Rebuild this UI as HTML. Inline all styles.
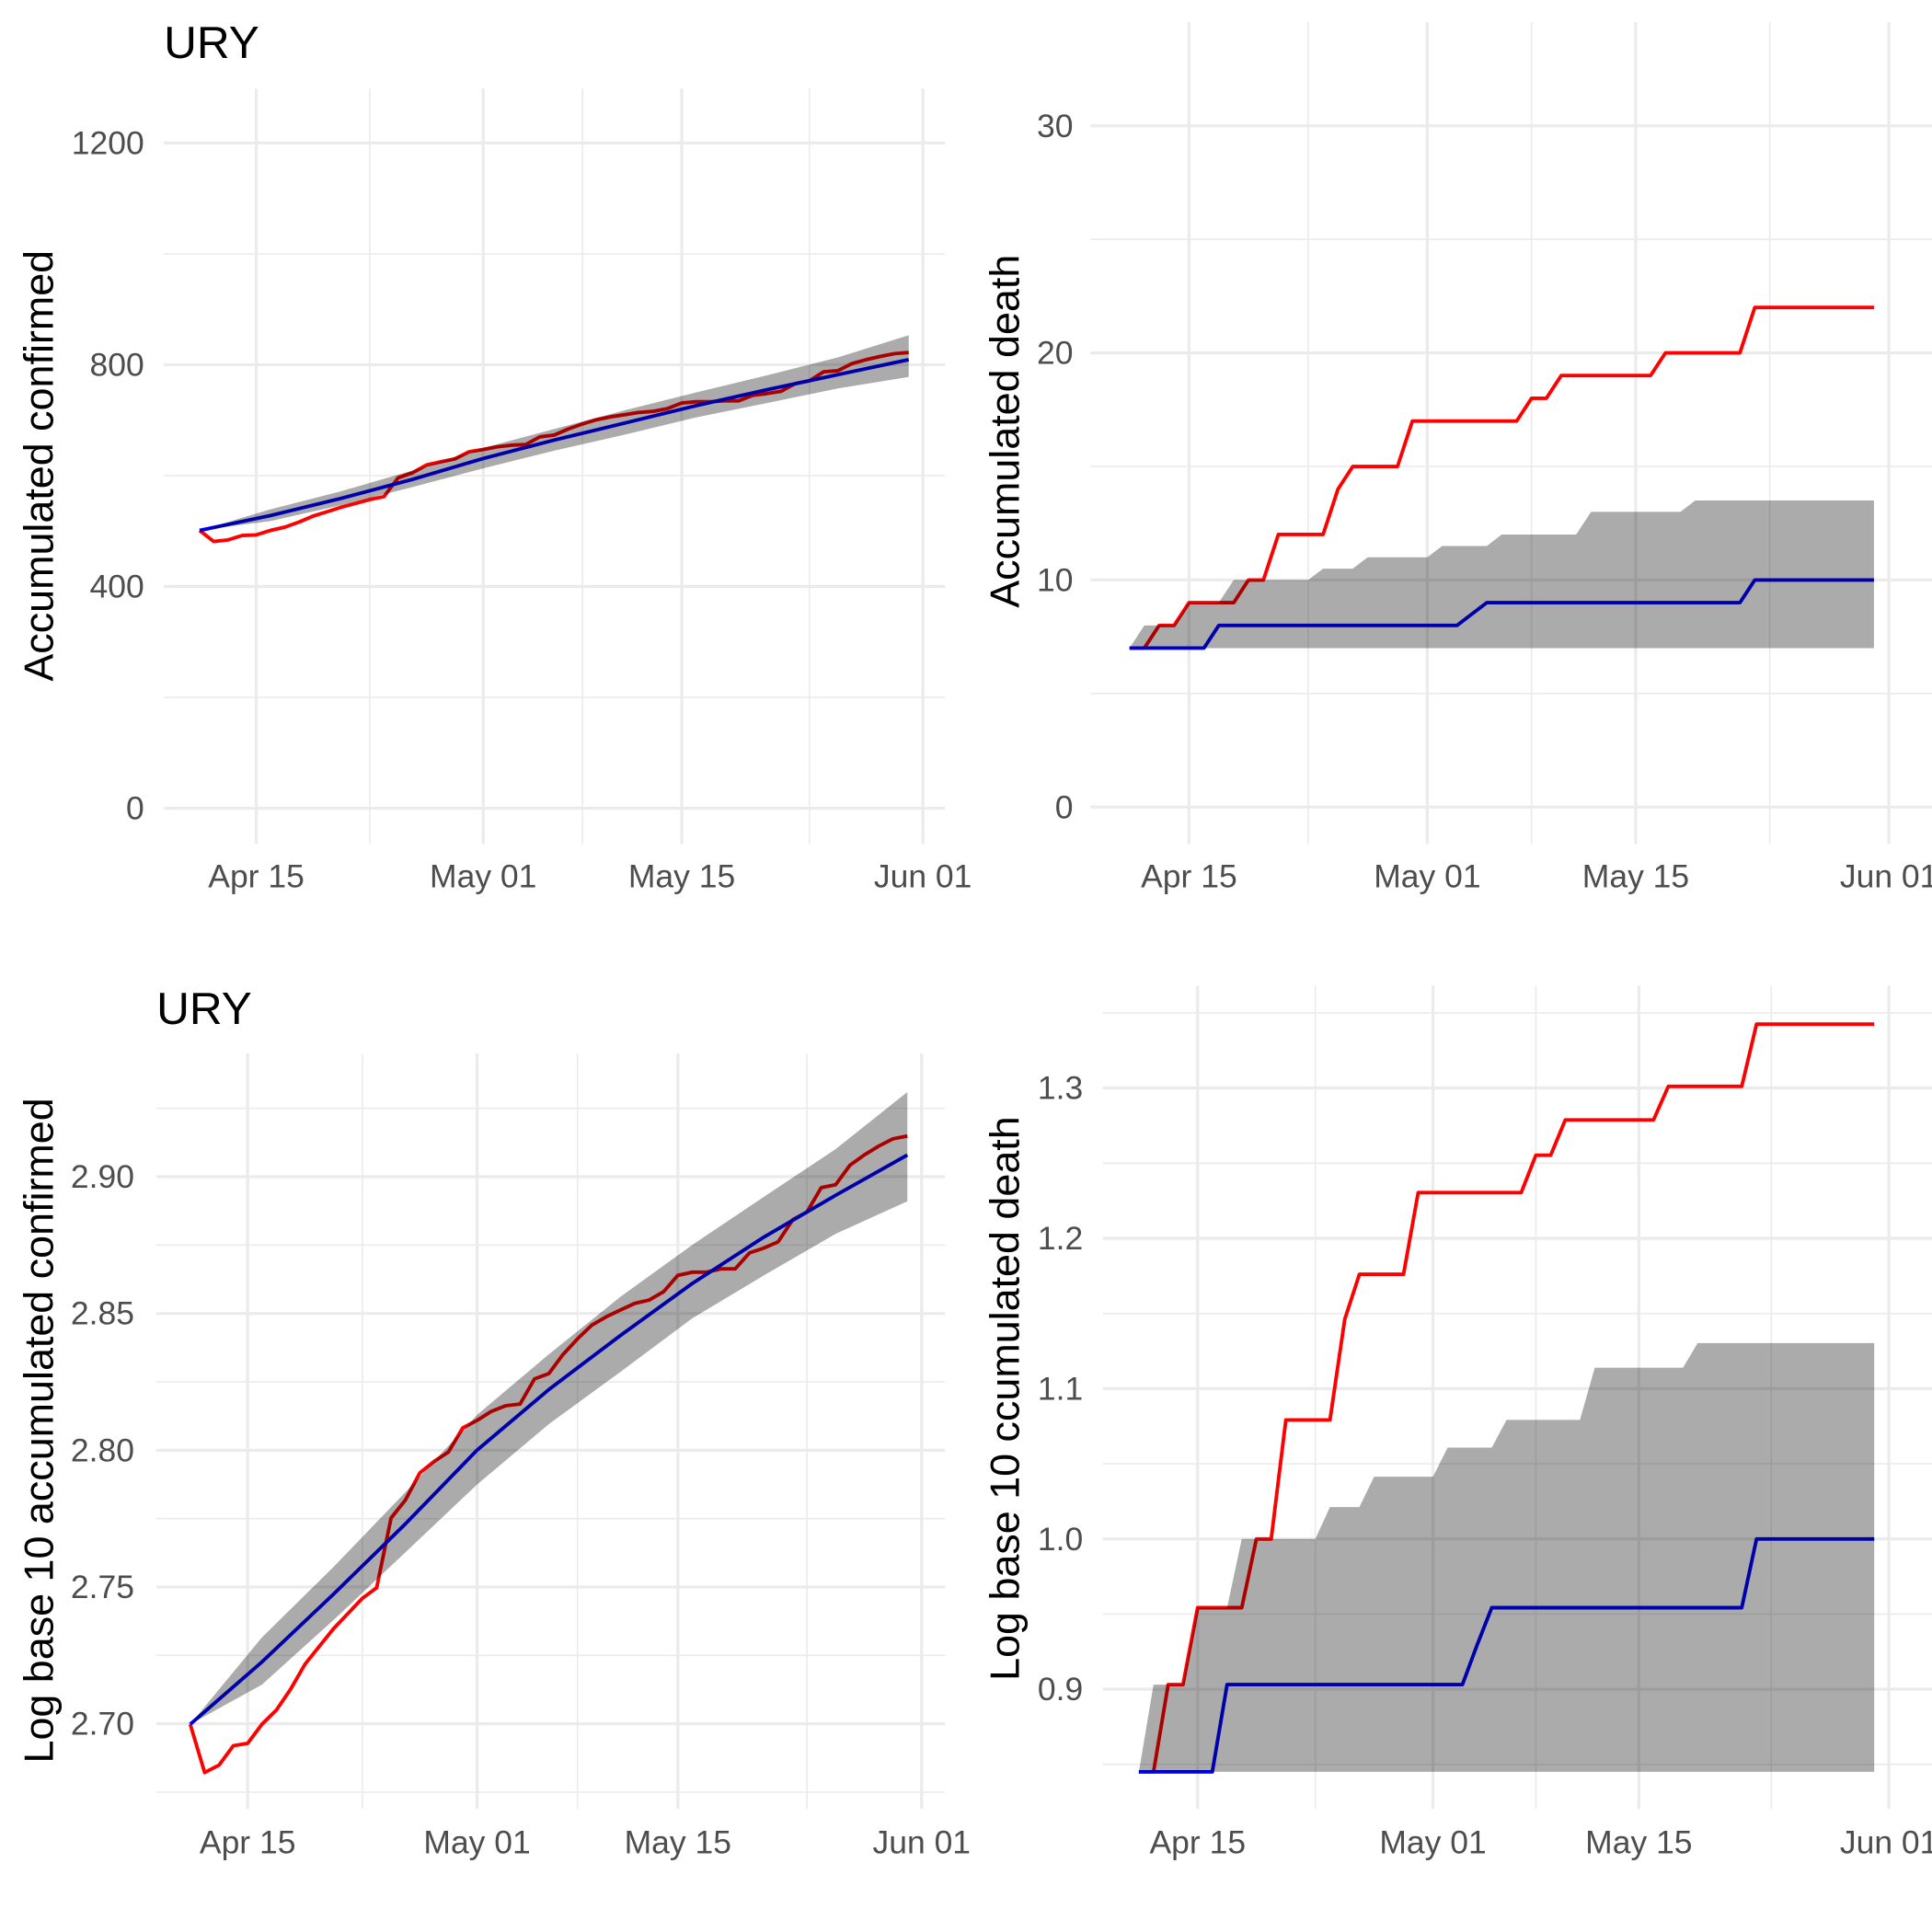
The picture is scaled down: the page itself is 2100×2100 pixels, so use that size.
<!DOCTYPE html>
<html><head><meta charset="utf-8"><style>
html,body{margin:0;padding:0;background:#fff;}
svg{display:block;font-family:"Liberation Sans",sans-serif;}
</style></head><body>
<svg id="chart" width="2100" height="2100" viewBox="0 0 1568 1568" xmlns="http://www.w3.org/2000/svg">
<text x="133" y="47" font-size="37" fill="#000">URY</text>
<text x="127" y="831" font-size="37" fill="#000">URY</text>
<text transform="translate(43,378) rotate(-90)" text-anchor="middle" font-size="33.5" fill="#000">Accumulated confirmed</text>
<text transform="translate(827,350) rotate(-90)" text-anchor="middle" font-size="33.5" fill="#000">Accumulated death</text>
<text transform="translate(43,1161) rotate(-90)" text-anchor="middle" font-size="33.5" fill="#000">Log base 10 accumulated confirmed</text>
<text transform="translate(827,1135) rotate(-90)" text-anchor="middle" font-size="33.5" fill="#000">Log base 10 ccumulated death</text>
</svg>
<script>
// Day 0 = Apr 11
const xTickDays = [4, 20, 34, 51];
const xTickLabels = ["Apr 15", "May 01", "May 15", "Jun 01"];
const xMinorDays = [12, 27, 43];
const confirmedObserved = [501,481,484,492,493,501,507,516,527,535,543,550,557,562,596,605,619,625,630,643,647,652,655,656,670,673,684,693,701,706,710,714,716,721,731,733,733,735,735,745,748,752,766,771,787,789,802,809,815,820,822];
const coarseDays = [0,5,10,15,20,25,30,35,40,45,50];
const confirmedModel = [501,528,559,593,631,664,695,726,755,782,809];
const confirmedLow = [501,518,547,579,613,645,674,705,731,757,778];
const confirmedHigh = [501,539,572,609,650,684,718,750,781,813,853];
const deathObserved = [7,7,8,8,9,9,9,9,10,10,12,12,12,12,14,15,15,15,15,17,17,17,17,17,17,17,17,18,18,19,19,19,19,19,19,19,20,20,20,20,20,20,22,22,22,22,22,22,22,22,22];
const deathModel = [7,7,7,7,7,7,8,8,8,8,8,8,8,8,8,8,8,8,8,8,8,8,8,8.5,9,9,9,9,9,9,9,9,9,9,9,9,9,9,9,9,9,9,10,10,10,10,10,10,10,10,10];
const deathLow = [7,7,7,7,7,7,7,7,7,7,7,7,7,7,7,7,7,7,7,7,7,7,7,7,7,7,7,7,7,7,7,7,7,7,7,7,7,7,7,7,7,7,7,7,7,7,7,7,7,7,7];
const deathHigh = [7,8,8,8,9,9,9,10,10,10,10,10,10,10.5,10.5,10.5,11,11,11,11,11,11.5,11.5,11.5,11.5,12,12,12,12,12,12,13,13,13,13,13,13,13,13.5,13.5,13.5,13.5,13.5,13.5,13.5,13.5,13.5,13.5,13.5,13.5,13.5];

const NS="http://www.w3.org/2000/svg";
const svg=document.getElementById('chart');
function mk(tag,attrs){const e=document.createElementNS(NS,tag);for(const k in attrs)e.setAttribute(k,attrs[k]);return e;}
const allDays=confirmedObserved.map((_,i)=>i);
const lg=v=>Math.log10(v);

const panels=[
 {id:'confirmed',xa:208,xb:749,gx0:133,gx1:767,gy0:72,gy1:685,yf:v=>656-v*0.45,maj:[0,400,800,1200],min:[200,600,1000],fmt:v=>String(v),lblR:117,xl:720,
  obs:confirmedObserved,modD:coarseDays,mod:confirmedModel,bD:coarseDays,lo:confirmedLow,hi:confirmedHigh,tr:v=>v},
 {id:'death',xa:965,xb:1533,gx0:885,gx1:1568,gy0:18,gy1:685,yf:v=>655-v*18.43,maj:[0,10,20,30],min:[5,15,25],fmt:v=>String(v),lblR:871,xl:720,
  obs:deathObserved,modD:allDays,mod:deathModel,bD:allDays,lo:deathLow,hi:deathHigh,tr:v=>v},
 {id:'log-confirmed',xa:201,xb:748,gx0:127,gx1:767,gy0:855,gy1:1468,yf:v=>1399-(v-2.7)*2220,maj:[2.70,2.75,2.80,2.85,2.90],min:[2.675,2.725,2.775,2.825,2.875,2.925],fmt:v=>v.toFixed(2),lblR:109,xl:1504,
  obs:confirmedObserved,modD:coarseDays,mod:confirmedModel,bD:coarseDays,lo:confirmedLow,hi:confirmedHigh,tr:lg},
 {id:'log-death',xa:972,xb:1533,gx0:895,gx1:1568,gy0:800,gy1:1468,yf:v=>1371-(v-0.9)*1220,maj:[0.9,1.0,1.1,1.2,1.3],min:[0.85,0.95,1.05,1.15,1.25,1.35],fmt:v=>v.toFixed(1),lblR:879,xl:1504,
  obs:deathObserved,modD:allDays,mod:deathModel,bD:allDays,lo:deathLow,hi:deathHigh,tr:lg}
];

panels.forEach(p=>{
 const k=(p.xb-p.xa)/(xTickDays[3]-xTickDays[0]);
 const xf=d=>p.xa+(d-xTickDays[0])*k;
 const g=mk('g',{});
 
 
 svg.appendChild(g);
 p.min.forEach(v=>{const l=mk('line',{x1:p.gx0,x2:p.gx1,y1:p.yf(v),y2:p.yf(v),stroke:'#ebebeb','stroke-width':1.2});
  
  
  g.appendChild(l);});
 xMinorDays.forEach(d=>{const l=mk('line',{x1:xf(d),x2:xf(d),y1:p.gy0,y2:p.gy1,stroke:'#ebebeb','stroke-width':1.2});
  
  
  g.appendChild(l);});
 p.maj.forEach(v=>{const l=mk('line',{x1:p.gx0,x2:p.gx1,y1:p.yf(v),y2:p.yf(v),stroke:'#ebebeb','stroke-width':2.4});
  
  
  g.appendChild(l);
  const t=mk('text',{x:p.lblR,y:p.yf(v)+9,'text-anchor':'end','font-size':26.5,fill:'#4d4d4d'});
  t.textContent=p.fmt(v);
  
  
  g.appendChild(t);});
 xTickDays.forEach((d,i)=>{const l=mk('line',{x1:xf(d),x2:xf(d),y1:p.gy0,y2:p.gy1,stroke:'#ebebeb','stroke-width':2.4});
  
  
  g.appendChild(l);
  const t=mk('text',{x:xf(d),y:p.xl,'text-anchor':'middle','font-size':26.5,fill:'#4d4d4d'});
  t.textContent=xTickLabels[i];
  
  
  g.appendChild(t);});
 const pts=(ds,vs)=>ds.map((d,i)=>xf(d).toFixed(1)+','+p.yf(p.tr(vs[i])).toFixed(1)).join(' ');
 const red=mk('polyline',{points:pts(allDays,p.obs),fill:'none',stroke:'#ff0000','stroke-width':2.9,'stroke-linejoin':'round'});
 
 
 g.appendChild(red);
 const blue=mk('polyline',{points:pts(p.modD,p.mod),fill:'none',stroke:'#0000ff','stroke-width':2.9,'stroke-linejoin':'round'});
 
 
 g.appendChild(blue);
 const hiPts=pts(p.bD,p.hi);
 const loPts=p.bD.map((d,i)=>xf(d).toFixed(1)+','+p.yf(p.tr(p.lo[i])).toFixed(1)).reverse().join(' ');
 const band=mk('polygon',{points:hiPts+' '+loPts,fill:'#000','fill-opacity':0.33,stroke:'none'});
 
 
 g.appendChild(band);
});
</script>
</body></html>
